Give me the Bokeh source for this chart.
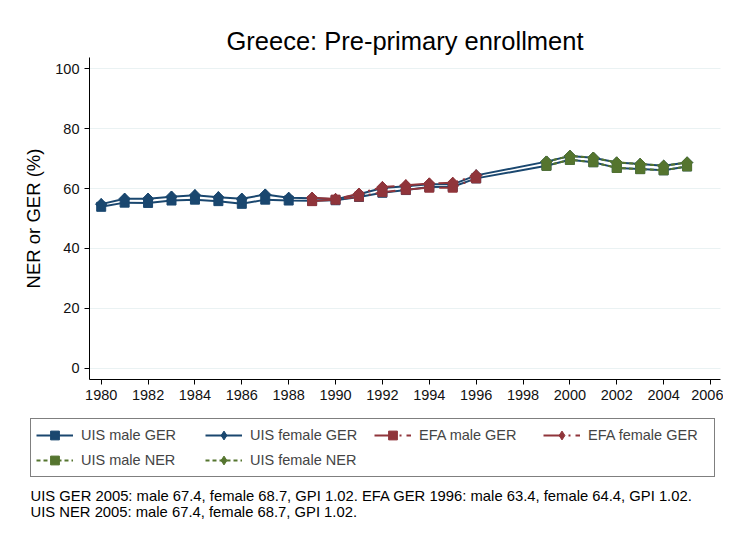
import math
from bokeh.plotting import figure
from bokeh.models import (ColumnDataSource, Range1d, FixedTicker, Legend, LegendItem, Label)
from bokeh.embed import file_html
from bokeh.resources import INLINE

# ---- data ----
uis_years = [1980, 1981, 1982, 1983, 1984, 1985, 1986, 1987, 1988, 1989, 1990, 1991, 1992,
             1993, 1994, 1995, 1996, 1999, 2000, 2001, 2002, 2003, 2004, 2005]
uis_male_ger = [53.9, 55.3, 55.2, 56.0, 56.3, 55.8, 54.9, 56.3, 56.0, 55.9, 56.1, 57.2, 58.6,
                59.5, 60.5, 60.6, 63.4, 67.6, 69.6, 68.8, 66.9, 66.5, 66.1, 67.4]
uis_female_ger = [54.8, 56.6, 56.6, 57.3, 57.8, 57.1, 56.6, 58.0, 56.9, 56.8, 56.4, 58.1, 60.2,
                  60.8, 61.4, 61.4, 64.4, 69.0, 70.9, 70.3, 68.7, 68.2, 67.6, 68.7]
efa_years = [1989, 1990, 1991, 1992, 1993, 1994, 1995, 1996]
efa_male_ger = [55.8, 56.3, 57.3, 58.8, 59.6, 60.3, 60.3, 63.4]
efa_female_ger = [56.9, 56.5, 58.3, 60.5, 61.1, 61.7, 61.9, 64.4]
ner_years = [1999, 2000, 2001, 2002, 2003, 2004, 2005]
uis_male_ner = [67.6, 69.6, 68.8, 66.9, 66.5, 66.1, 67.4]
uis_female_ner = [69.0, 70.9, 70.3, 68.7, 68.2, 67.6, 68.7]

x_ticks = [1980, 1982, 1984, 1986, 1988, 1990, 1992, 1994, 1996, 1998, 2000, 2002, 2004, 2006]
y_ticks = [0, 20, 40, 60, 80, 100]

title_text = "Greece: Pre-primary enrollment"
y_label = "NER or GER (%)"
note_lines = [
    "UIS GER 2005: male 67.4, female 68.7, GPI 1.02. EFA GER 1996: male 63.4, female 64.4, GPI 1.02.",
    "UIS NER 2005: male 67.4, female 68.7, GPI 1.02.",
]

NAVY = "#1a476f"
MAROON = "#90353b"
GREEN = "#55752f"
GRID = "#eaf2f3"
FONT = "Liberation Sans"
EFA_DASH = "20 5 2 5"
NER_DASH = "4 3"

# label, x, y, colour, dash, female?
series = [
    ("UIS male GER", uis_years, uis_male_ger, NAVY, "solid", False),
    ("UIS female GER", uis_years, uis_female_ger, NAVY, "solid", True),
    ("EFA male GER", efa_years, efa_male_ger, MAROON, EFA_DASH, False),
    ("EFA female GER", efa_years, efa_female_ger, MAROON, EFA_DASH, True),
    ("UIS male NER", ner_years, uis_male_ner, GREEN, NER_DASH, False),
    ("UIS female NER", ner_years, uis_female_ner, GREEN, NER_DASH, True),
]

# canvas and plot-area geometry (pixels)
W, H = 723, 530
X0_PX, X_PER_YEAR = 100.7, 23.435      # pixel of 1980, pixels per year
Y0_PX, Y_PER_UNIT = 367.7, 2.994       # pixel of 0 %, pixels per percent
AREA_L, AREA_R, AREA_T, AREA_B = 89, 720, 57, 379


def xdata(px):
    return 1980 + (px - X0_PX) / X_PER_YEAR


def ydata(py):
    return (Y0_PX - py) / Y_PER_UNIT


x_lo, x_hi = xdata(AREA_L), xdata(AREA_R)
y_lo, y_hi = ydata(AREA_B), ydata(AREA_T)

p = figure(width=W, height=H, output_backend="svg", toolbar_location=None,
           x_range=Range1d(xdata(0), xdata(W)), y_range=Range1d(ydata(H), ydata(0)),
           min_border=0)
p.outline_line_color = None
p.background_fill_color = "white"
p.border_fill_color = "white"

p.xgrid.visible = False
try:
    p.ygrid.cross_bounds = (x_lo, x_hi)
    p.ygrid.ticker = FixedTicker(ticks=y_ticks)
    p.ygrid.grid_line_color = GRID
    p.ygrid.grid_line_width = 1
except Exception:
    p.ygrid.visible = False
    gsrc = ColumnDataSource(dict(y=y_ticks, x0=[x_lo] * len(y_ticks), x1=[x_hi] * len(y_ticks)))
    p.segment(x0="x0", x1="x1", y0="y", y1="y", source=gsrc, line_color=GRID, line_width=1)

for ax in (p.xaxis[0], p.yaxis[0]):
    ax.axis_line_color = "black"
    ax.major_tick_line_color = "black"
    ax.major_tick_out = 5
    ax.major_tick_in = 0
    ax.minor_tick_line_color = None
    ax.major_label_text_font = FONT
    ax.major_label_text_font_size = "14.5px"
    ax.major_label_text_color = "#111111"
p.xaxis.ticker = FixedTicker(ticks=x_ticks)
p.yaxis.ticker = FixedTicker(ticks=y_ticks)
p.xaxis.fixed_location = y_lo
p.xaxis.bounds = (x_lo, x_hi)
p.yaxis.fixed_location = x_lo
p.yaxis.bounds = (y_lo, y_hi)
p.xaxis.major_label_standoff = 5
p.yaxis.major_label_standoff = 5
p.yaxis.axis_label = y_label
p.yaxis.axis_label_text_font = FONT
p.yaxis.axis_label_text_font_size = "18.5px"
p.yaxis.axis_label_text_font_style = "normal"
p.yaxis.axis_label_text_color = "black"
p.yaxis.axis_label_standoff = 8

items = []
for label, xs, ys, color, dash, female in series:
    src = ColumnDataSource(dict(x=xs, y=ys))
    lr = p.line("x", "y", source=src, line_color=color, line_width=2, line_dash=dash)
    if female:
        sr = p.scatter("x", "y", source=src, marker="diamond", size=11,
                       fill_color=color, line_color=color)
        # rotated square gives the wider diamond shape in the plot area
        p.scatter("x", "y", source=src, marker="square", angle=math.pi / 4, size=8,
                  fill_color=color, line_color=color)
    else:
        sr = p.scatter("x", "y", source=src, marker="square", size=9,
                       fill_color=color, line_color=color)
    items.append(LegendItem(label=label, renderers=[lr, sr]))

legend = Legend(items=items, orientation="horizontal", ncols=4,
                location=(30, H - 477),
                border_line_color="black", border_line_width=1,
                background_fill_color="white", background_fill_alpha=1,
                label_text_font=FONT, label_text_font_size="14.5px",
                glyph_width=37, glyph_height=22, label_standoff=8,
                label_width=121, label_height=22,
                spacing=3, padding=5, margin=0)
p.add_layout(legend)

p.add_layout(Label(x=(AREA_L + AREA_R) / 2, y=H - 40, x_units="screen", y_units="screen",
                   text=title_text, text_font=FONT, text_font_size="25.5px",
                   text_align="center", text_baseline="middle", text_color="black"))

for i, t in enumerate(note_lines):
    p.add_layout(Label(x=30, y=H - 495 - 16 * i, x_units="screen", y_units="screen",
                       text=t, text_font=FONT, text_font_size="14.8px",
                       text_baseline="middle", text_color="black"))

open("out.html", "w").write(file_html(p, INLINE))
